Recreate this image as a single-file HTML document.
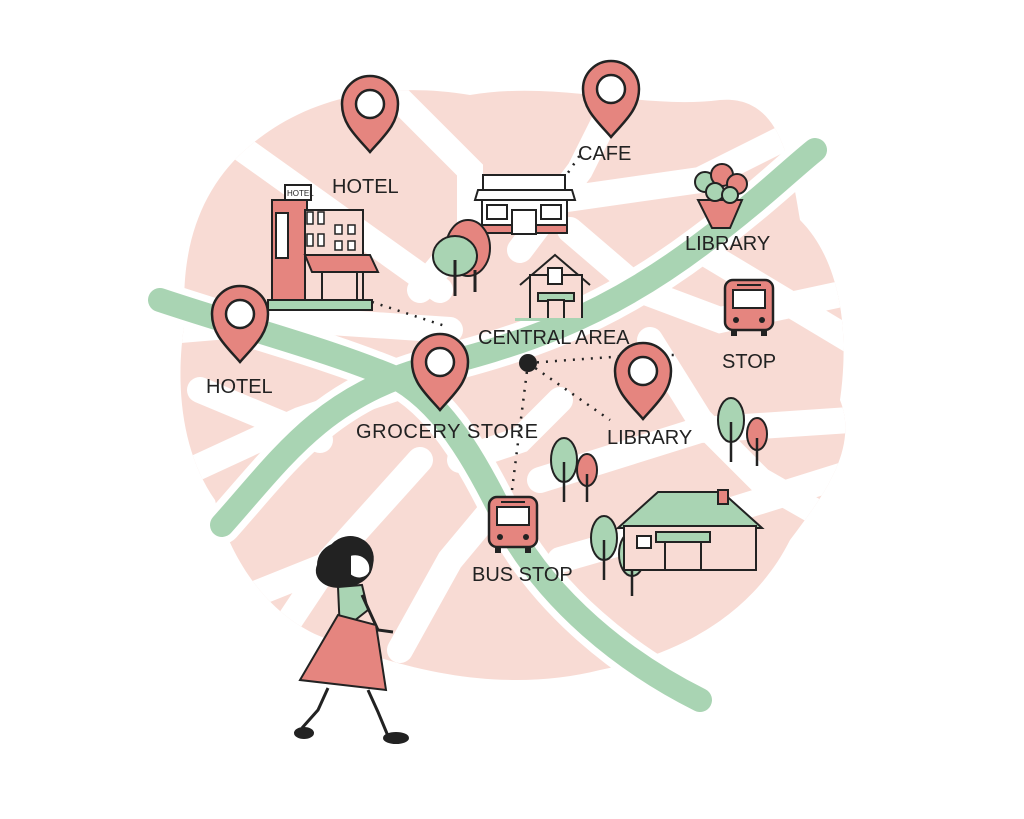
<!DOCTYPE html>
<html><head><style>
body{margin:0;background:#fff;width:1024px;height:819px;overflow:hidden}
svg{display:block}
text{font-family:"Liberation Sans",sans-serif;font-size:20px;fill:#222}
</style></head><body>
<svg width="1024" height="819" viewBox="0 0 1024 819" xmlns="http://www.w3.org/2000/svg">
<defs>
<clipPath id="blob"><path d="M245,150 C300,100 380,80 470,95 C560,80 640,110 720,100 C780,95 790,160 800,220 C840,260 850,330 840,400 C860,450 820,500 790,540 C760,600 700,650 600,670 C520,690 430,680 330,640 C270,620 230,560 215,500 C180,450 175,380 185,320 C180,250 200,190 245,150 Z"/></clipPath>
<g id="pin"><path d="M0,34 C-14,18 -28,6 -28,-14 C-28,-30 -15,-42 0,-42 C15,-42 28,-30 28,-14 C28,6 14,18 0,34 Z" fill="#e5857f" stroke="#222" stroke-width="2.5"/><circle cx="0" cy="-14" r="14" fill="#fff" stroke="#222" stroke-width="2.5"/></g>
<g id="bus"><rect x="0" y="0" width="48" height="50" rx="8" fill="#e5857f" stroke="#222" stroke-width="2.5"/><rect x="8" y="10" width="32" height="18" fill="#fff" stroke="#222" stroke-width="2"/><circle cx="11" cy="40" r="3" fill="#222"/><circle cx="37" cy="40" r="3" fill="#222"/><rect x="6" y="50" width="6" height="6" fill="#222"/><rect x="36" y="50" width="6" height="6" fill="#222"/><line x1="12" y1="5" x2="36" y2="5" stroke="#222" stroke-width="2"/></g>
<g id="treeG"><ellipse cx="0" cy="-2" rx="13" ry="22" fill="#a9d4b3" stroke="#222" stroke-width="2"/><line x1="0" y1="0" x2="0" y2="40" stroke="#222" stroke-width="2.5"/></g>
<g id="treeP"><ellipse cx="0" cy="-2" rx="10" ry="16" fill="#e5857f" stroke="#222" stroke-width="2"/><line x1="0" y1="2" x2="0" y2="30" stroke="#222" stroke-width="2.5"/></g>
</defs>
<g clip-path="url(#blob)">
<rect width="1024" height="819" fill="#f8dbd4"/>
<g stroke="#fff" stroke-width="26" fill="none" stroke-linecap="round">
<path d="M230,140 L300,190 L440,290"/>
<path d="M380,80 L470,170 L470,230 L420,290"/>
<path d="M620,90 L580,170 L520,250"/>
<path d="M560,200 L700,180 L860,100"/>
<path d="M570,230 L640,290 L720,320 L860,290"/>
<path d="M700,250 L850,340"/>
<path d="M180,330 L300,320 L450,330"/>
<path d="M170,480 L300,420 L420,380"/>
<path d="M420,460 L330,560 L290,620"/>
<path d="M460,460 L520,440 L560,400"/>
<path d="M540,480 L700,430 L850,420"/>
<path d="M560,560 L700,520 L860,470"/>
<path d="M650,340 L700,420 L760,480 L830,520"/>
<path d="M400,650 L450,560 L500,500"/>
<path d="M240,600 L340,560"/>
<path d="M200,390 L320,440"/>
</g>
</g>
<g fill="none" stroke-linecap="round">
<path d="M160,300 C250,330 330,350 400,380 C450,410 480,470 510,530 C550,600 620,660 700,700" stroke="#fff" stroke-width="38"/>
<path d="M222,525 C280,460 320,400 420,370 C520,345 600,320 700,245 C760,200 790,170 815,150" stroke="#fff" stroke-width="38"/>
<path d="M160,300 C250,330 330,350 400,380 C450,410 480,470 510,530 C550,600 620,660 700,700" stroke="#a9d4b3" stroke-width="24"/>
<path d="M222,525 C280,460 320,400 420,370 C520,345 600,320 700,245 C760,200 790,170 815,150" stroke="#a9d4b3" stroke-width="24"/>
</g>
<g stroke="#222" stroke-width="2.5" stroke-dasharray="2 7" fill="none">
<path d="M372,302 L445,326"/>
<path d="M553,195 L580,155"/>
<path d="M528,363 L640,355 L680,355"/>
<path d="M528,363 L512,490"/>
<path d="M528,363 L610,420"/>
</g>
<circle cx="528" cy="363" r="9" fill="#222"/>
<g stroke="#222" stroke-width="2">
<rect x="272" y="200" width="35" height="105" fill="#e5857f"/>
<rect x="285" y="185" width="26" height="15" fill="#fff"/>
<rect x="305" y="210" width="58" height="95" fill="#f8dbd4"/>
<rect x="276" y="213" width="12" height="45" fill="#fff"/>
<polygon points="305,255 370,255 378,272 312,272" fill="#e5857f"/>
<rect x="322" y="272" width="35" height="32" fill="#f8dbd4"/>
<rect x="268" y="300" width="104" height="10" fill="#a9d4b3"/>
</g>
<text x="287" y="196" style="font-size:8px">HOTEL</text>
<g fill="#fff" stroke="#222" stroke-width="1.5"><rect x="307" y="212" width="6" height="12"/><rect x="318" y="212" width="6" height="12"/><rect x="307" y="234" width="6" height="12"/><rect x="318" y="234" width="6" height="12"/><rect x="335" y="225" width="7" height="9"/><rect x="348" y="225" width="7" height="9"/><rect x="335" y="241" width="7" height="9"/><rect x="348" y="241" width="7" height="9"/></g>
<g stroke="#222" stroke-width="2">
<rect x="483" y="175" width="82" height="15" fill="#fff"/>
<polygon points="478,190 572,190 575,200 475,200" fill="#fff"/>
<rect x="482" y="200" width="85" height="33" fill="#fff"/>
<rect x="482" y="225" width="85" height="8" fill="#e5857f"/>
<rect x="512" y="210" width="24" height="24" fill="#fff"/>
<rect x="487" y="205" width="20" height="14" fill="#fff"/><rect x="541" y="205" width="20" height="14" fill="#fff"/>
</g>
<g stroke="#222" stroke-width="2"><ellipse cx="468" cy="248" rx="22" ry="28" fill="#e5857f"/><ellipse cx="455" cy="256" rx="22" ry="20" fill="#a9d4b3"/><line x1="455" y1="260" x2="455" y2="296" stroke-width="3"/><line x1="475" y1="270" x2="475" y2="292" stroke-width="3"/></g>
<g stroke="#222" stroke-width="2" fill="#f8dbd4">
<polyline points="520,285 555,255 590,285" fill="none"/>
<rect x="530" y="275" width="52" height="45"/>
<rect x="538" y="293" width="36" height="8" fill="#a9d4b3"/>
<rect x="548" y="300" width="16" height="20"/>
<rect x="548" y="268" width="14" height="16" fill="#fff"/>
</g>
<rect x="515" y="318" width="85" height="3" fill="#a9d4b3"/>
<g stroke="#222" stroke-width="2">
<polygon points="698,200 742,200 730,228 712,228" fill="#e5857f"/>
<circle cx="705" cy="182" r="10" fill="#a9d4b3"/><circle cx="722" cy="175" r="11" fill="#e5857f"/><circle cx="737" cy="184" r="10" fill="#e5857f"/><circle cx="715" cy="192" r="9" fill="#a9d4b3"/><circle cx="730" cy="195" r="8" fill="#a9d4b3"/>
</g>
<use href="#bus" x="725" y="280"/>
<use href="#bus" x="489" y="497"/>
<use href="#treeG" x="731" y="422"/>
<use href="#treeP" x="757" y="436"/>
<use href="#treeG" x="564" y="462"/>
<use href="#treeP" x="587" y="472"/>
<use href="#treeG" x="604" y="540"/>
<use href="#treeG" x="632" y="556"/>
<use href="#treeP" x="745" y="538"/>
<g stroke="#222" stroke-width="2">
<polygon points="618,528 658,492 722,492 762,528" fill="#a9d4b3"/>
<rect x="624" y="526" width="132" height="44" fill="#f8dbd4"/>
<rect x="656" y="532" width="54" height="10" fill="#a9d4b3"/>
<rect x="665" y="542" width="36" height="28" fill="#f8dbd4"/>
<rect x="637" y="536" width="14" height="12" fill="#fff"/>
<rect x="718" y="490" width="10" height="14" fill="#e5857f"/>
</g>
<use href="#pin" x="370" y="118"/>
<use href="#pin" x="611" y="103"/>
<use href="#pin" x="240" y="328"/>
<use href="#pin" x="440" y="376"/>
<use href="#pin" x="643" y="385"/>
<text x="332" y="193">HOTEL</text>
<text x="578" y="160">CAFE</text>
<text x="685" y="250">LIBRARY</text>
<text x="206" y="393">HOTEL</text>
<text x="478" y="344">CENTRAL AREA</text>
<text x="356" y="438" textLength="182">GROCERY STORE</text>
<text x="607" y="444">LIBRARY</text>
<text x="722" y="368">STOP</text>
<text x="472" y="581">BUS STOP</text>
<g stroke="#222" stroke-width="2">
<path d="M332,545 C348,528 378,540 372,565 C370,580 355,586 345,586 C330,590 312,580 318,565 C318,555 325,548 332,545 Z" fill="#222"/>
<path d="M350,555 C362,552 372,560 370,572 C366,580 356,580 350,575 Z" fill="#fff"/>
<path d="M338,587 L362,585 L368,610 L340,632 Z" fill="#a9d4b3"/>
<path d="M362,595 L378,630 L393,632" fill="none" stroke-width="3"/>
<path d="M338,615 L300,680 L386,690 L376,625 Z" fill="#e5857f"/>
<path d="M328,688 L318,710 L302,728" fill="none" stroke-width="3"/>
<path d="M368,690 L378,712 L388,736" fill="none" stroke-width="3"/>
<ellipse cx="304" cy="733" rx="9" ry="5" fill="#222"/>
<ellipse cx="396" cy="738" rx="12" ry="5" fill="#222"/>
</g>
</svg>
</body></html>
